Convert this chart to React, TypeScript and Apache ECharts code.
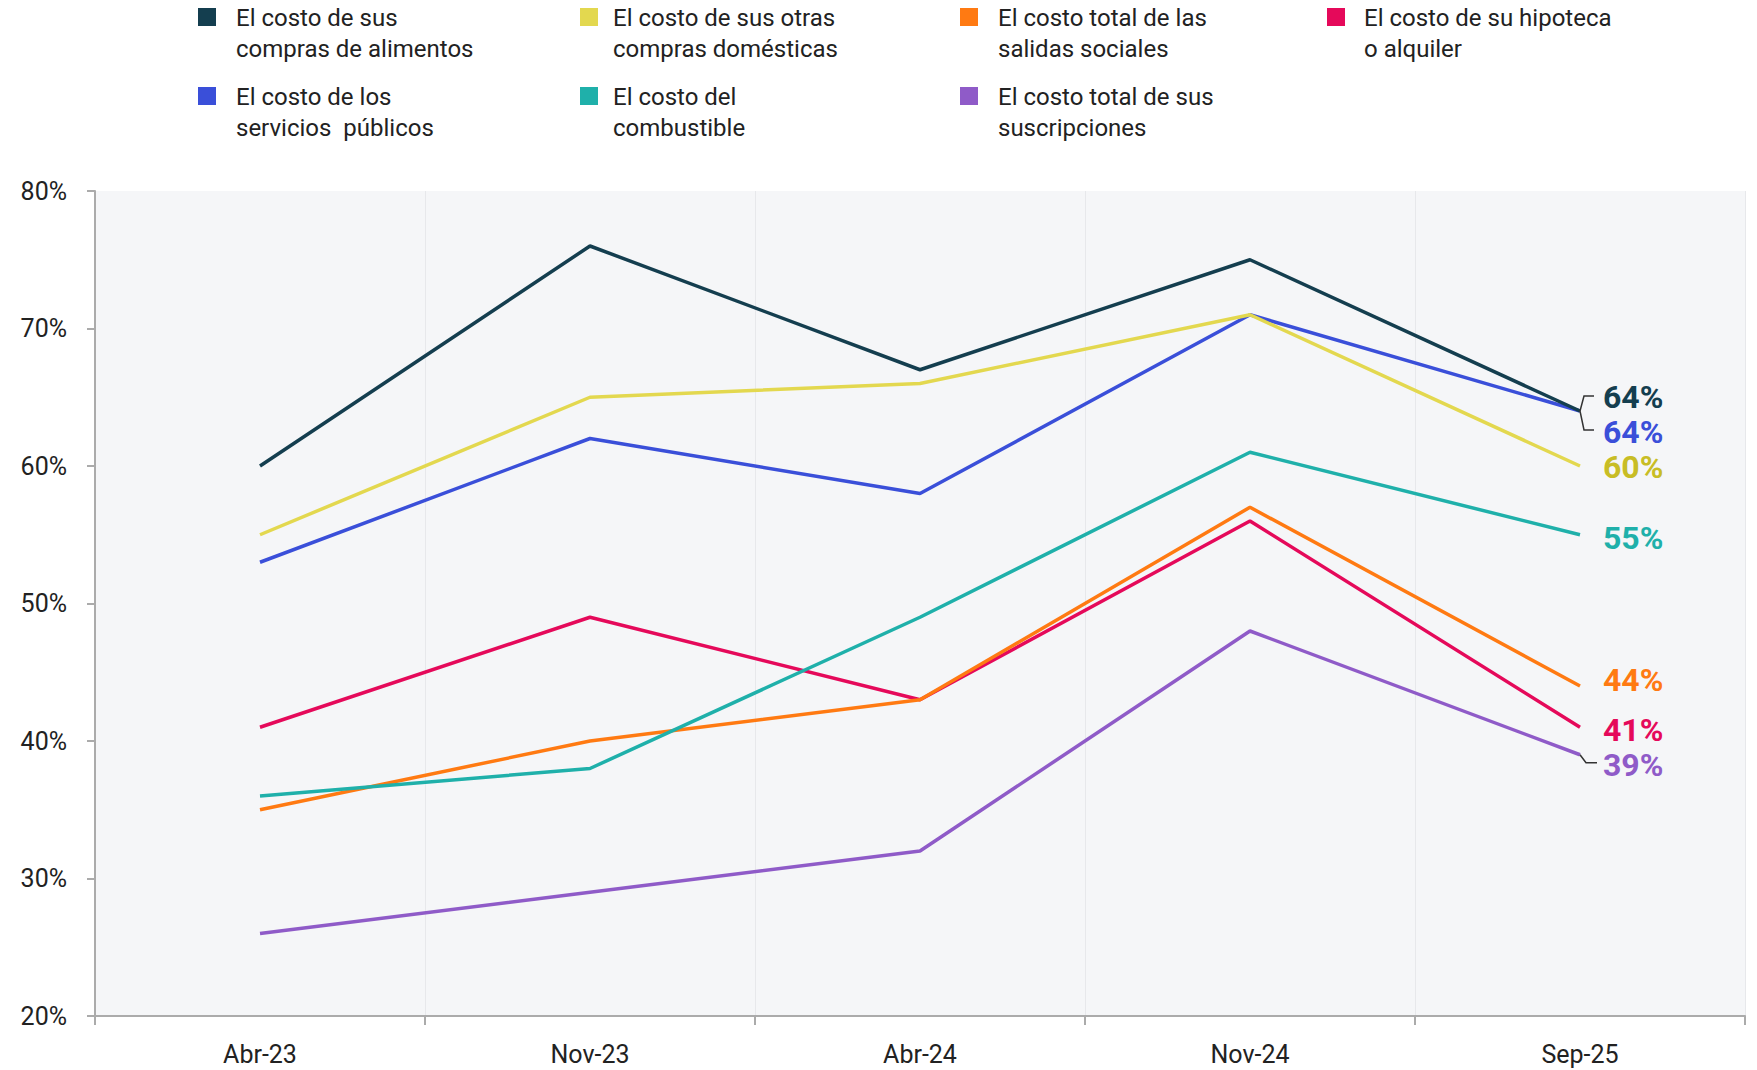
import React, { useEffect, useRef } from "react";
import * as echarts from "echarts";

const categories = ["Abr-23", "Nov-23", "Abr-24", "Nov-24", "Sep-25"];

const alimentos = [60, 76, 67, 75, 64];
const otrasDomesticas = [55, 65, 66, 71, 60];
const serviciosPublicos = [53, 62, 58, 71, 64];
const combustible = [36, 38, 49, 61, 55];
const salidasSociales = [35, 40, 43, 57, 44];
const hipoteca = [41, 49, 43, 56, 41];
const suscripciones = [26, 29, 32, 48, 39];

const seriesNames = [
  "El costo de sus compras de alimentos",
  "El costo de sus otras compras domésticas",
  "El costo de los servicios públicos",
  "El costo del combustible",
  "El costo total de las salidas sociales",
  "El costo de su hipoteca o alquiler",
  "El costo total de sus suscripciones",
];
const legendLines = [
  "El costo de sus\ncompras de alimentos",
  "El costo de sus otras\ncompras domésticas",
  "El costo de los\nservicios  públicos",
  "El costo del\ncombustible",
  "El costo total de las\nsalidas sociales",
  "El costo de su hipoteca\no alquiler",
  "El costo total de sus\nsuscripciones",
];
const seriesData = [alimentos, otrasDomesticas, serviciosPublicos, combustible, salidasSociales, hipoteca, suscripciones];
const lineColors = ["#143E4F", "#E3D84F", "#3A4FD9", "#1FB0AA", "#FF7A12", "#E5095A", "#8F5BC8"];
const labelColors = ["#143E4F", "#C8BD25", "#3A4FD9", "#1FB0AA", "#FF7A12", "#E5095A", "#8F5BC8"];
const labelOffsetY = [-14, 1, 21, 3, -6, 3, 10];

// legend layout: [column, row]
const legendSlots = [[0, 0], [1, 0], [0, 1], [1, 1], [2, 0], [3, 0], [2, 1]];
const legendColX = [198, 580, 960, 1327];
const legendTextGap = [38, 33, 38, 37];
const legendRowY = [8, 87];

const FONT = "Roboto, 'Noto Sans', sans-serif";

export default function App() {
  const ref = useRef<HTMLDivElement>(null);
  useEffect(() => {
    const chart = echarts.init(ref.current!, null, { renderer: "svg" });
    const option: any = {
      animation: false,
      backgroundColor: "#FFFFFF",
      textStyle: { fontFamily: FONT },
      grid: {
        left: 95,
        right: 12,
        top: 191,
        bottom: 54,
        containLabel: false,
        show: true,
        backgroundColor: "#F5F6F8",
        borderWidth: 0,
      },
      xAxis: {
        type: "category",
        data: categories,
        boundaryGap: true,
        axisLine: { show: true, lineStyle: { color: "#ABABAB", width: 2 } },
        axisTick: { show: true, length: 9, alignWithLabel: false, lineStyle: { color: "#ABABAB", width: 2 } },
        axisLabel: { color: "#222222", fontSize: 25, margin: 26, fontFamily: FONT },
        splitLine: { show: true, lineStyle: { color: "#E7E8EB", width: 1 } },
      },
      yAxis: {
        type: "value",
        min: 20,
        max: 80,
        interval: 10,
        axisLine: { show: true, lineStyle: { color: "#ABABAB", width: 2 } },
        axisTick: { show: true, length: 8, lineStyle: { color: "#ABABAB", width: 2 } },
        axisLabel: { color: "#222222", fontSize: 25, margin: 28, formatter: "{value}%", fontFamily: FONT },
        splitLine: { show: false },
      },
      series: seriesNames.map((name, i) => ({
        name,
        type: "line",
        data: seriesData[i],
        symbol: "none",
        lineStyle: { color: lineColors[i], width: 3.5 },
        itemStyle: { color: lineColors[i] },
        z: 10 - i,
        endLabel: {
          show: true,
          formatter: (p: any) => `${p.value}%`,
          color: labelColors[i],
          fontSize: 32,
          lineHeight: 30,
          fontWeight: "bold",
          fontFamily: FONT,
          distance: 23,
          offset: [0, labelOffsetY[i]],
        },
      })),
    };
    chart.setOption(option);

    const graphics: any[] = [];
    seriesNames.forEach((_, i) => {
      const [col, row] = legendSlots[i];
      const x = legendColX[col];
      const y = legendRowY[row];
      graphics.push({
        type: "rect",
        shape: { x, y, width: 18, height: 18 },
        style: { fill: lineColors[i] },
        silent: true,
      });
      graphics.push({
        type: "text",
        x: x + legendTextGap[col],
        y: y - 6,
        style: {
          text: legendLines[i],
          font: `24px ${FONT}`,
          fill: "#222222",
          lineHeight: 31,
          verticalAlign: "top",
        },
        silent: true,
      });
    });

    const last = categories.length - 1;
    const pTop = chart.convertToPixel({ xAxisIndex: 0, yAxisIndex: 0 }, [last, alimentos[last]]) as number[];
    const pPurple = chart.convertToPixel({ xAxisIndex: 0, yAxisIndex: 0 }, [last, suscripciones[last]]) as number[];
    const [bx, by] = pTop;
    graphics.push({
      type: "polyline",
      shape: {
        points: [
          [bx + 14, by - 15],
          [bx + 4, by - 15],
          [bx, by],
          [bx + 4, by + 19],
          [bx + 14, by + 19],
        ],
      },
      style: { stroke: "#333333", lineWidth: 1.5, fill: null },
      silent: true,
      z: 100,
    });
    const [qx, qy] = pPurple;
    graphics.push({
      type: "polyline",
      shape: {
        points: [
          [qx, qy],
          [qx + 6, qy + 8],
          [qx + 17, qy + 8],
        ],
      },
      style: { stroke: "#333333", lineWidth: 1.5, fill: null },
      silent: true,
      z: 100,
    });
    chart.setOption({ graphic: { elements: graphics } });

    return () => chart.dispose();
  }, []);
  return (
    <div
      ref={ref}
      style={{ position: "fixed", left: 0, top: 0, width: 1757, height: 1070 }}
    />
  );
}
